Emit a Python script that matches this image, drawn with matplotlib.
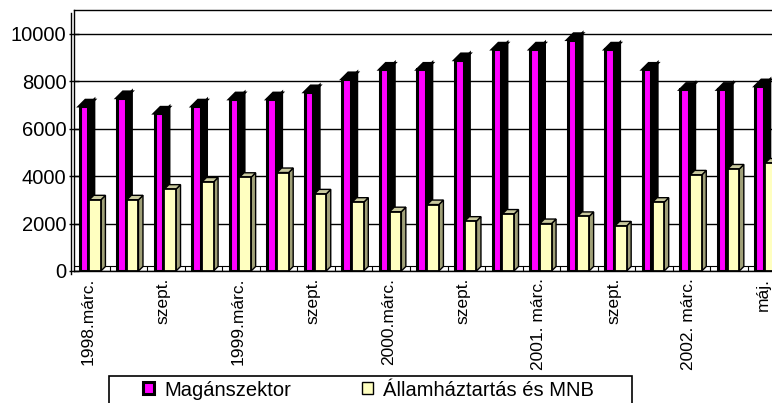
import matplotlib.pyplot as plt
import matplotlib.transforms as mtransforms
from matplotlib.patches import Polygon, Rectangle, Patch

plt.rcParams['font.family'] = ['Liberation Sans', 'DejaVu Sans']

# Adatok (leolvasva az ábráról)
cimkek = ['1998.márc.', '', 'szept.', '', '1999.márc.', '', 'szept.', '',
          '2000.márc.', '', 'szept.', '', '2001. márc.', '', 'szept.', '',
          '2002. márc.', '', 'máj.']
magan = [6950, 7300, 6650, 6950, 7250, 7250, 7550, 8100, 8500, 8500,
         8900, 9350, 9350, 9750, 9350, 8500, 7650, 7650, 7800]
allam = [3000, 3000, 3450, 3750, 3950, 4150, 3250, 2900, 2500, 2800,
         2100, 2400, 2000, 2300, 1900, 2900, 4050, 4300, 4550]
sorozatok = ['Magánszektor', 'Államháztartás és MNB']

W, H = 772, 403
fig = plt.figure(figsize=(W / 100, H / 100), dpi=100)

# tengely a hátfal szerint (pixelben mérve)
bal, fent, lent = 74, 10, 271
ax = fig.add_axes([bal / W, 1 - lent / H, (W - bal) / W, (lent - fent) / H])
xlo, xhi = -0.447, 18.14
ylo, yhi = 0, 11000
ax.set_xlim(xlo, xhi)
ax.set_ylim(ylo, yhi)

px_x = (W - bal) / (xhi - xlo)
px_y = (lent - fent) / (yhi - ylo)

x = list(range(len(magan)))

# rácsvonalak
ax.set_yticks(range(0, 10001, 2000))
ax.yaxis.grid(True, color='black', lw=1)
ax.set_axisbelow(True)


def melyseg(x0, w, v, d, oldal, teto, lw, z):
    dx, dy = d / px_x, d / px_y
    ax.add_patch(Polygon([(x0 + w, 0), (x0 + w + dx, dy), (x0 + w + dx, v + dy), (x0 + w, v)],
                         closed=True, facecolor=oldal, edgecolor='black', lw=lw, zorder=z))
    ax.add_patch(Polygon([(x0, v), (x0 + w, v), (x0 + w + dx, v + dy), (x0 + dx, v + dy)],
                         closed=True, facecolor=teto, edgecolor='black', lw=lw, zorder=z))


m_bal, m_w = -0.30, 0.225
a_bal, a_w = -0.04, 0.31

for i in x:
    melyseg(i + m_bal, m_w, magan[i], 6, 'black', 'black', 2.0, 3)
    melyseg(i + a_bal, a_w, allam[i], 4.5, '#a0a078', '#c9c99e', 1.0, 4)

ax.bar([i + m_bal for i in x], magan, width=m_w, align='edge',
       color='#ff00ff', edgecolor='black', lw=2.2, zorder=3.5)
ax.bar([i + a_bal for i in x], allam, width=a_w, align='edge',
       color='#ffffc0', edgecolor='black', lw=1.3, zorder=4.5)

# padló
pdy = 5 / px_y
ax.axhline(pdy, color='black', lw=0.8, zorder=2)
ax.vlines([i + 0.5 for i in x] + [i - 0.1 for i in x], 0, pdy, color='black', lw=0.8, zorder=2)

# bal fal elülső éle
eltol = ax.transAxes + mtransforms.ScaledTranslation(-0.03, -0.03, fig.dpi_scale_trans)
ax.plot([0, 0], [0, 1], color='black', lw=1, transform=eltol, clip_on=False)

ax.spines['right'].set_visible(False)
for s in ['left', 'top', 'bottom']:
    ax.spines[s].set_linewidth(1)

ax.set_xticks([i - 0.08 for i in x])
ax.set_xticklabels(cimkek, rotation=90, va='top', ha='center', fontsize=12.5)
ax.tick_params(axis='x', length=0, pad=5)
ax.tick_params(axis='y', direction='inout', length=7, width=1, labelsize=14.5, pad=2)

# jelmagyarázat
fig.add_artist(Rectangle((109 / W, -0.02), (632 - 109) / W, 0.02 + 1 - 376 / H,
                         transform=fig.transFigure, fill=False, edgecolor='black', lw=1.2))
kezelok = [Patch(facecolor='#ff00ff', edgecolor='black', lw=2.2),
           Patch(facecolor='#ffffc0', edgecolor='black', lw=1)]
fig.legend(kezelok, sorozatok, loc='center left', bbox_to_anchor=(143 / W, 1 - 390 / H),
           frameon=False, ncol=2, handlelength=0.55, handleheight=0.55, handletextpad=0.5,
           columnspacing=3.5, borderpad=0, borderaxespad=0, fontsize=14.5)

fig.savefig('out.png', dpi=100)
